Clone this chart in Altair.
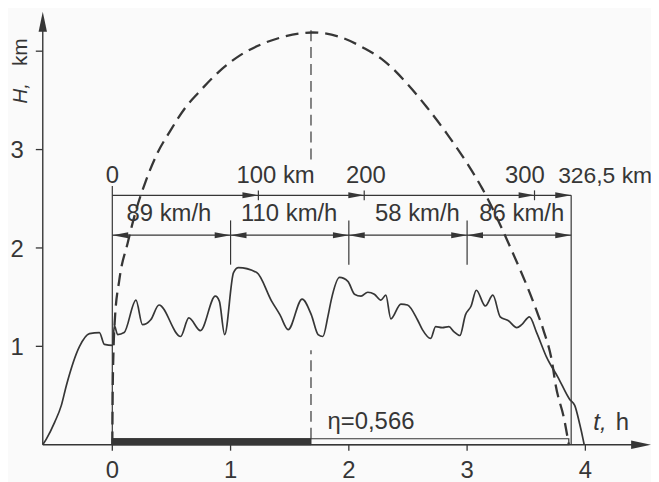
import altair as alt
import pandas as pd

# ---------------- data ----------------
profile_t = [-0.588, -0.557, -0.487, -0.431, -0.389, -0.277, -0.193, -0.109, -0.067, 0.003,
             0.017, 0.045, 0.10, 0.20, 0.255, 0.325, 0.395, 0.577, 0.647, 0.745,
             0.871, 0.905, 0.95, 1.025, 1.067, 1.221, 1.347, 1.418, 1.487, 1.605,
             1.683, 1.74, 1.78, 1.824, 1.851, 1.922, 1.992, 2.048, 2.103, 2.16,
             2.216, 2.271, 2.313, 2.355, 2.44, 2.496, 2.58, 2.622, 2.692, 2.734,
             2.79, 2.846, 2.888, 2.939, 2.986, 3.034, 3.078, 3.154, 3.218, 3.28,
             3.35, 3.42, 3.462, 3.527, 3.588, 3.672, 3.771, 3.868, 3.91, 3.952,
             3.98, 3.99]
profile_h = [0.0, 0.06, 0.23, 0.40, 0.60, 1.00, 1.13, 1.14, 1.02, 1.01,
             1.21, 1.12, 1.14, 1.47, 1.22, 1.27, 1.42, 1.10, 1.29, 1.16,
             1.51, 1.46, 1.12, 1.75, 1.80, 1.75, 1.46, 1.32, 1.17, 1.48,
             1.32, 1.12, 1.10, 1.31, 1.47, 1.70, 1.66, 1.53, 1.51, 1.55,
             1.53, 1.47, 1.52, 1.28, 1.43, 1.42, 1.27, 1.17, 1.08, 1.20,
             1.19, 1.20, 1.15, 1.11, 1.32, 1.41, 1.57, 1.41, 1.52, 1.30,
             1.26, 1.19, 1.22, 1.30, 1.14, 0.89, 0.68, 0.46, 0.40, 0.21,
             0.06, 0.0]

envelope_t = [0.0, 0.003, 0.01, 0.02, 0.06, 0.13, 0.20, 0.28, 0.38, 0.49,
              0.62, 0.73, 0.90, 1.07, 1.26, 1.46, 1.69, 1.91, 2.13, 2.30,
              2.50, 2.66, 2.83, 3.00, 3.13, 3.364, 3.588, 3.644, 3.728, 3.74,
              3.826, 3.86]
envelope_h = [0.0, 0.50, 0.95, 1.24, 1.68, 2.05, 2.38, 2.67, 2.96, 3.19,
              3.43, 3.58, 3.79, 3.95, 4.07, 4.15, 4.19, 4.15, 4.03, 3.90,
              3.66, 3.43, 3.16, 2.86, 2.60, 2.01, 1.36, 1.17, 0.77, 0.67,
              0.23, 0.0]

hour_ticks = [0, 1, 2, 3, 4]
height_ticks = [1, 2, 3, 4]
height_tick_labels = ["1", "2", "3", ""]

distance_labels = ["0", "100 km", "200", "300", "326,5 km"]
distance_marker_t = [0.0, 1.235, 2.13, 3.57, 3.88]

speed_bounds_t = [0.0, 1.0, 2.0, 3.0, 3.88]
speed_kmh = [89, 110, 58, 86]

peak_t = 1.68
eta_text = "η=0,566"
bar_end_t = 3.86

# ---------------- layout / style ----------------
W, H = 647, 474
T_MIN, T_MAX = -0.882, 4.555
H_MIN, H_MAX = -0.364, 4.424
PX_T = W / (T_MAX - T_MIN)
PX_H = H / (H_MAX - H_MIN)
AX_T = -0.588          # where the H axis stands
INK = "#363636"
FONT = "Liberation Sans"
DIST_Y = 2.535
SPEED_Y = 2.13

xs = alt.Scale(domain=[T_MIN, T_MAX], nice=False, zero=False)
ys = alt.Scale(domain=[H_MIN, H_MAX], nice=False, zero=False)


def enc_xy():
    return dict(x=alt.X("t:Q", scale=xs, axis=None), y=alt.Y("h:Q", scale=ys, axis=None))


def segs(rows, width=1.3, dash=None):
    df = pd.DataFrame(rows, columns=["t", "h", "t2", "h2"])
    kw = dict(color=INK, strokeWidth=width)
    if dash:
        kw["strokeDash"] = dash
    return alt.Chart(df).mark_rule(**kw).encode(x2="t2:Q", y2="h2:Q", **enc_xy())


def arrows(ts, hs, path, length):
    df = pd.DataFrame({"t": ts, "h": hs})
    return alt.Chart(df).mark_point(shape=path, filled=True, size=length * length,
                                    color=INK, opacity=1, strokeWidth=0).encode(**enc_xy())


def texts(rows, size=24, align="center", baseline="middle", style="normal", angle=0, font=FONT):
    df = pd.DataFrame(rows, columns=["t", "h", "label"])
    kw = dict(align=align, baseline=baseline, fontSize=size, font=font, color=INK,
              fontStyle=style)
    if angle:
        kw["angle"] = angle
    return alt.Chart(df).mark_text(**kw).encode(text="label:N", **enc_xy())


RIGHT = "M1,0 L-1,-0.38 L-1,0.38 Z"
LEFT = "M-1,0 L1,-0.38 L1,0.38 Z"
UP = "M0,-1 L-0.42,1 L0.42,1 Z"
BIG_RIGHT = "M1,0 L-1,-0.42 L-1,0.42 Z"

layers = []

# bottom bar (rect outline + filled part)
bar_df = pd.DataFrame({"t": [0.0], "t2": [bar_end_t], "h": [0.0], "h2": [6 / PX_H]})
layers.append(alt.Chart(bar_df).mark_rect(fill="#fafafa", stroke=INK, strokeWidth=1.2)
              .encode(x2="t2:Q", y2="h2:Q", **enc_xy()))
fill_df = pd.DataFrame({"t": [0.0], "t2": [peak_t], "h": [0.0], "h2": [6 / PX_H]})
layers.append(alt.Chart(fill_df).mark_rect(fill=INK, stroke=INK, strokeWidth=1)
              .encode(x2="t2:Q", y2="h2:Q", **enc_xy()))

# axes
layers.append(segs([(AX_T, 0, AX_T, 4.30), (AX_T, 0, 4.48, 0)], width=1.4))
layers.append(arrows([AX_T], [4.40 - 10 / PX_H], UP, 20))
layers.append(arrows([T_MAX - 10 / PX_T], [0], BIG_RIGHT, 20))
layers.append(segs([(t, 0, t, -6 / PX_H) for t in hour_ticks], width=1.3))
layers.append(segs([(AX_T - 7 / PX_T, h, AX_T, h) for h in height_ticks], width=1.3))
layers.append(texts([(t, -0.343, str(t)) for t in hour_ticks], baseline="alphabetic"))
layers.append(texts([(-0.748, h - 0.09, lab) for h, lab in zip(height_ticks, height_tick_labels)],
                    align="right", baseline="alphabetic"))
layers.append(texts([(-0.77, 3.465, "H,")], size=21, align="left", style="italic", angle=270))
layers.append(texts([(-0.77, 4.131, "km")], size=21, align="right", angle=270))
layers.append(texts([(4.067, 0.152, "t,")], align="left", baseline="alphabetic", style="italic"))
layers.append(texts([(4.37, 0.152, "h")], align="right", baseline="alphabetic"))

# boundaries, distance and speed lines
end_t = speed_bounds_t[-1]
layers.append(segs([(0, 0, 0, 2.63), (end_t, 0, end_t, DIST_Y),
                    (0, DIST_Y, end_t, DIST_Y), (0, SPEED_Y, end_t, SPEED_Y)], width=1.2))
layers.append(segs([(t, DIST_Y - 0.05, t, DIST_Y + 0.05) for t in distance_marker_t[1:-1]], width=1.2))
layers.append(segs([(t, 1.83, t, 2.28) for t in speed_bounds_t[1:-1]], width=1.2))
off = 8 / PX_T
layers.append(arrows([t - off for t in distance_marker_t[1:]], [DIST_Y] * 4, RIGHT, 16))
layers.append(arrows([t - off for t in speed_bounds_t[1:]], [SPEED_Y] * 4, RIGHT, 16))
layers.append(arrows([t + off for t in speed_bounds_t[:-1]], [SPEED_Y] * 4, LEFT, 16))

# distance labels
dist_pos = [(0.0, "center"), (1.05, "left"), (1.975, "left"), (3.32, "left"), (3.77, "left")]
for (tp, al), lab in zip(dist_pos, distance_labels):
    layers.append(texts([(tp, 2.73, lab)], align=al, size=23 if lab.startswith("326") else 24))
# speed labels
speed_pos = [0.479, 1.496, 2.58, 3.462]
layers.append(texts([(tp, 2.343, f"{v} km/h") for tp, v in zip(speed_pos, speed_kmh)], size=24))

# eta label
layers.append(texts([(1.82, 0.162, eta_text)], align="left", baseline="alphabetic", size=24))

# peak vertical dashed
layers.append(segs([(peak_t, 2.9, peak_t, 4.27), (peak_t, 6 / PX_H, peak_t, 0.96)],
                   width=1.2, dash=[11, 6]))

# envelope (dashed) and altitude profile
env_df = pd.DataFrame({"t": envelope_t, "h": envelope_h})
layers.append(alt.Chart(env_df).mark_line(color=INK, strokeWidth=2.3, strokeDash=[13, 7],
                                          interpolate="monotone").encode(**enc_xy()))
prof_df = pd.DataFrame({"t": profile_t, "h": profile_h})
layers.append(alt.Chart(prof_df).mark_line(color=INK, strokeWidth=1.7,
                                           interpolate="monotone").encode(**enc_xy()))

chart = alt.layer(*layers).properties(
    width=W, height=H,
    autosize=alt.AutoSizeParams(type="none"),
    padding=0,
    background="#fafafa",
).configure_view(stroke=None)

chart.save("out.html", embed_options={"renderer": "svg", "actions": False})
